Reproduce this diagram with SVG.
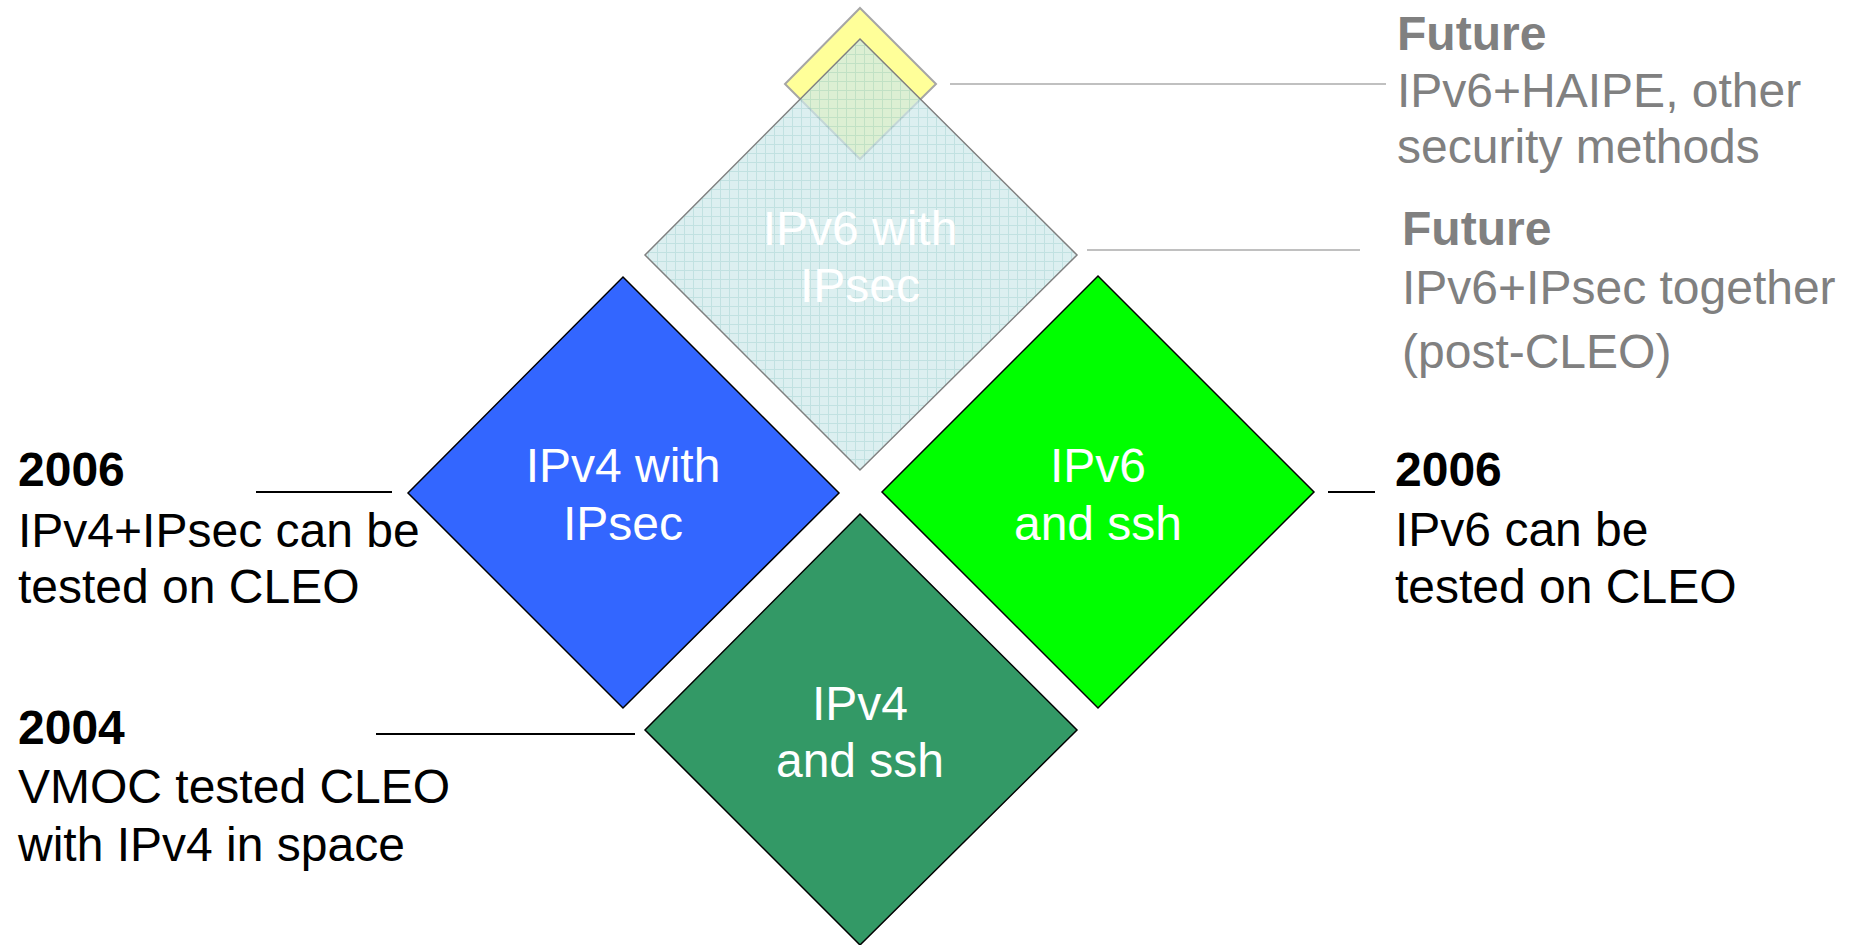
<svg xmlns="http://www.w3.org/2000/svg" width="1850" height="945" viewBox="0 0 1850 945">
<style>
text{font-family:"Liberation Sans",Arial,sans-serif;font-size:48px}
.w{fill:#fff;text-anchor:middle}
.k{fill:#000}
.g{fill:#808080}
.b{font-weight:bold}
.blk{stroke:#000;stroke-width:1.5}
.ln{stroke:#000;stroke-width:2;fill:none}
.gl{stroke:#c0c0c0;stroke-width:2;fill:none}
</style>
<defs>
<pattern id="grid" width="9" height="9" patternUnits="userSpaceOnUse">
<rect width="9" height="9" fill="#cfe9ea"/>
<path d="M0 0.5H9M0.5 0V9" stroke="#a9d6d6" stroke-width="1"/>
</pattern>
</defs>
<g id="connectors">
<line class="gl" x1="950" y1="84" x2="1386" y2="84"/>
<line class="gl" x1="1087" y1="250" x2="1360" y2="250"/>
<line class="ln" x1="256" y1="492" x2="392" y2="492"/>
<line class="ln" x1="1328" y1="492" x2="1375" y2="492"/>
<line class="ln" x1="376" y1="734" x2="635" y2="734"/>
</g>
<g id="future-haipe">
<polygon points="860,8 936,84 860,159 785,84" fill="#ffff99" stroke="#a6a6a6" stroke-width="2"/>
</g>
<g id="ipv6-ipsec">
<polygon points="860,39 1077,255 860,470 645,255" fill="url(#grid)" fill-opacity="0.72" stroke="#808080" stroke-width="1.5"/>
<text class="w" x="860" y="245">IPv6 with</text>
<text class="w" x="860" y="302">IPsec</text>
</g>
<g id="ipv4-ipsec">
<polygon class="blk" points="623,277 839,493 623,708 408,493" fill="#3366ff"/>
<text class="w" x="623" y="482">IPv4 with</text>
<text class="w" x="623" y="540">IPsec</text>
</g>
<g id="ipv6-ssh">
<polygon class="blk" points="1098,276 1314,492 1098,708 882,492" fill="#00ff00"/>
<text class="w" x="1098" y="482">IPv6</text>
<text class="w" x="1098" y="540">and ssh</text>
</g>
<g id="ipv4-ssh">
<polygon class="blk" points="860,514 1077,730 860,945 645,730" fill="#339966"/>
<text class="w" x="860" y="720">IPv4</text>
<text class="w" x="860" y="777">and ssh</text>
</g>
<g id="label-2006-left">
<text class="k b" x="18" y="486">2006</text>
<text class="k" x="18" y="547">IPv4+IPsec can be</text>
<text class="k" x="18" y="603">tested on CLEO</text>
</g>
<g id="label-2004">
<text class="k b" x="18" y="744">2004</text>
<text class="k" x="18" y="803">VMOC tested CLEO</text>
<text class="k" x="18" y="861">with IPv4 in space</text>
</g>
<g id="label-2006-right">
<text class="k b" x="1395" y="486">2006</text>
<text class="k" x="1395" y="546">IPv6 can be</text>
<text class="k" x="1395" y="603">tested on CLEO</text>
</g>
<g id="label-future-1">
<text class="g b" x="1397" y="50">Future</text>
<text class="g" x="1397" y="107">IPv6+HAIPE, other</text>
<text class="g" x="1397" y="163">security methods</text>
</g>
<g id="label-future-2">
<text class="g b" x="1402" y="245">Future</text>
<text class="g" x="1402" y="304">IPv6+IPsec together</text>
<text class="g" x="1402" y="368">(post-CLEO)</text>
</g>
</svg>
